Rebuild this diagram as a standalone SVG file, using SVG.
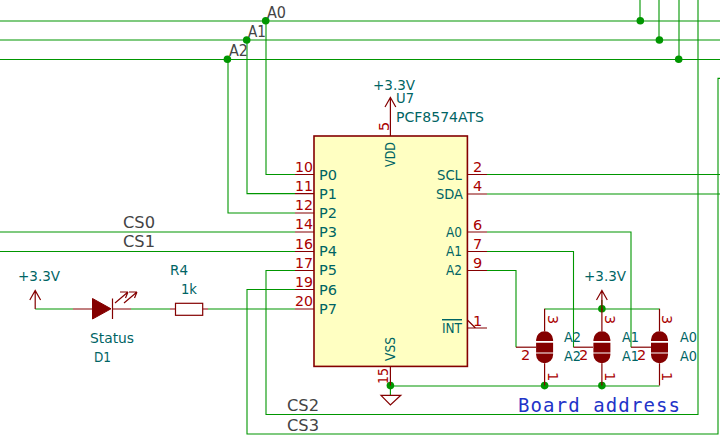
<svg xmlns="http://www.w3.org/2000/svg" width="720" height="437" viewBox="0 0 720 437">
<style>
text{font-family:"DejaVu Sans",sans-serif;font-size:14.5px}
.w{fill:none;stroke:#009600;stroke-width:1.1}
.p{fill:none;stroke:#840000;stroke-width:1.2}
.b{fill:#ffffc2;stroke:#840000;stroke-width:1.6}
.d{fill:#009600}
.n{fill:#a90000}
.t{fill:#006464}
.l{fill:#444;font-size:15.5px}
.c{fill:#444;font-size:16px}
.j{fill:#840000}
</style>
<defs>
<g id="jumper">
<path class="p" d="M0 -38.4V-16M0 16V38.4"/>
<path class="j" d="M-8.5 -6.2V-7.5A8.5 8.5 0 0 1 8.5 -7.5V-6.2ZM-8.5 -4.5H8.5V5.2H-8.5ZM-8.5 6.4H8.5V7.5A8.5 8.5 0 0 1 -8.5 7.5Z"/>
</g>
</defs>
<rect width="720" height="437" fill="#fff"/>
<g id="connectors">
<path class="w" d="M0 21H720M0 40H720M0 59.5H720"/>
<path class="w" d="M640 0V21M659 0V40M679 0V59.5"/>
<path class="w" d="M295 174.5H266V21M295 193.6H247V40M295 213H228V59.5"/>
<path class="w" d="M0 232H295M0 251.5H295"/>
<path class="w" d="M295 270.5H266V414.5H698V0"/>
<path class="w" d="M295 289.5H247V434H718V78.4H720"/>
<path class="w" d="M35.2 309H73M131 309H170M208 309H295"/>
<path class="w" d="M487 174.5H720M487 194H720"/>
<path class="w" d="M487 232H631V347.2M487 251.5H573.5V347.2M487 270.5H516V347.2"/>
<path class="w" d="M544.6 309H659.5M390.4 386H659.5M390.4 386V395M601.9 300V309"/>
<circle class="d" cx="265.7" cy="20.8" r="3.8"/>
<circle class="d" cx="246.7" cy="40" r="3.8"/>
<circle class="d" cx="227.4" cy="59.3" r="3.8"/>
<circle class="d" cx="640.3" cy="20.8" r="3.8"/>
<circle class="d" cx="659.4" cy="40" r="3.8"/>
<circle class="d" cx="678.7" cy="59.2" r="3.8"/>
<circle class="d" cx="601.9" cy="308.8" r="3.8"/>
<circle class="d" cx="390.4" cy="385.6" r="3.8"/>
<circle class="d" cx="544.6" cy="385.6" r="3.8"/>
<circle class="d" cx="601.9" cy="385.6" r="3.8"/>
</g>
<g id="net-labels">
<text class="l" x="267" y="18" textLength="19" lengthAdjust="spacingAndGlyphs">A0</text>
<text class="l" x="248" y="37" textLength="18" lengthAdjust="spacingAndGlyphs">A1</text>
<text class="l" x="229" y="56" textLength="19" lengthAdjust="spacingAndGlyphs">A2</text>
<text class="c" x="123" y="228" textLength="32" lengthAdjust="spacingAndGlyphs">CS0</text>
<text class="c" x="123" y="247" textLength="32" lengthAdjust="spacingAndGlyphs">CS1</text>
<text class="c" x="287" y="411" textLength="32" lengthAdjust="spacingAndGlyphs">CS2</text>
<text class="c" x="287" y="431" textLength="32" lengthAdjust="spacingAndGlyphs">CS3</text>
<text x="518" y="411.5" style="font-family:'DejaVu Sans Mono',monospace;font-size:19px;fill:#2233c8" textLength="162">Board address</text>
</g>
<g id="U7">
<rect class="b" x="314" y="136" width="153.4" height="230.4"/>
<path class="p" d="M295 174.5H314M295 193.6H314M295 213H314M295 232H314M295 251.5H314M295 270.5H314M295 289.5H314M295 309H314"/>
<path class="p" d="M467.4 174.5H487M467.4 194H487M467.4 232H487M467.4 251.5H487M467.4 270.5H487M467.4 328H487M467.4 320L475.5 328M390.4 136V116M390.4 366.4V385.6"/>
<g class="n">
<text x="295" y="172" textLength="18" lengthAdjust="spacingAndGlyphs">10</text><text x="295" y="191" textLength="18" lengthAdjust="spacingAndGlyphs">11</text><text x="295" y="210" textLength="18" lengthAdjust="spacingAndGlyphs">12</text><text x="295" y="229" textLength="18" lengthAdjust="spacingAndGlyphs">14</text><text x="295" y="249" textLength="18" lengthAdjust="spacingAndGlyphs">16</text><text x="295" y="268" textLength="18" lengthAdjust="spacingAndGlyphs">17</text><text x="295" y="287" textLength="18" lengthAdjust="spacingAndGlyphs">19</text><text x="295" y="306" textLength="18" lengthAdjust="spacingAndGlyphs">20</text>
<text x="473" y="172">2</text><text x="473" y="191">4</text><text x="473" y="230">6</text><text x="473" y="249">7</text><text x="473" y="268">9</text><text x="473" y="326">1</text>
<text transform="translate(388.5,131) rotate(-90)">5</text>
<text transform="translate(388,384) rotate(-90)" textLength="16" lengthAdjust="spacingAndGlyphs">15</text>
</g>
<g class="t">
<text x="319" y="180" textLength="18" lengthAdjust="spacingAndGlyphs">P0</text><text x="319" y="199" textLength="18" lengthAdjust="spacingAndGlyphs">P1</text><text x="319" y="218" textLength="18" lengthAdjust="spacingAndGlyphs">P2</text><text x="319" y="237" textLength="18" lengthAdjust="spacingAndGlyphs">P3</text><text x="319" y="256" textLength="18" lengthAdjust="spacingAndGlyphs">P4</text><text x="319" y="275" textLength="18" lengthAdjust="spacingAndGlyphs">P5</text><text x="319" y="295" textLength="18" lengthAdjust="spacingAndGlyphs">P6</text><text x="319" y="314" textLength="18" lengthAdjust="spacingAndGlyphs">P7</text>
<text x="437" y="180" textLength="25" lengthAdjust="spacingAndGlyphs">SCL</text><text x="436" y="199" textLength="27" lengthAdjust="spacingAndGlyphs">SDA</text><text x="446" y="237" textLength="16" lengthAdjust="spacingAndGlyphs">A0</text><text x="446" y="256" textLength="16" lengthAdjust="spacingAndGlyphs">A1</text><text x="446" y="275" textLength="16" lengthAdjust="spacingAndGlyphs">A2</text>
<text x="442" y="333" text-decoration="overline" textLength="20" lengthAdjust="spacingAndGlyphs">INT</text>
<text transform="translate(395,167) rotate(-90)" textLength="25" lengthAdjust="spacingAndGlyphs">VDD</text>
<text transform="translate(395,361) rotate(-90)" textLength="24" lengthAdjust="spacingAndGlyphs">VSS</text>
<text x="396" y="103" textLength="18" lengthAdjust="spacingAndGlyphs">U7</text>
<text x="396" y="122" textLength="88" lengthAdjust="spacingAndGlyphs">PCF8574ATS</text>
</g>
</g>
<g id="pwr-u7">
<path class="p" d="M390.4 116V97M385 107L390.4 97.5L395.8 107"/>
<text class="t" x="373" y="90" textLength="42" lengthAdjust="spacingAndGlyphs">+3.3V</text>
</g>
<g id="gnd">
<path class="p" d="M381 395.3H400.8L390.4 405Z"/>
</g>
<g id="pwr-led">
<path class="p" d="M35.2 309V290M29.8 300L35.2 290.5L40.6 300"/>
<text class="t" x="18" y="281" textLength="42" lengthAdjust="spacingAndGlyphs">+3.3V</text>
</g>
<g id="D1">
<path class="p" d="M73 309H92M112 309H131"/>
<path class="j" d="M92.5 298.5V319L111 308.8Z" stroke="#840000"/>
<path class="p" stroke-width="1.5" d="M112.5 298.5V319M115 303L128 292M128 292H120M128 292L125.5 298M124 303L137 292M137 292H129M137 292L134.5 298"/>
<text class="t" x="90" y="343" textLength="44" lengthAdjust="spacingAndGlyphs">Status</text>
<text class="t" x="94" y="362" textLength="17" lengthAdjust="spacingAndGlyphs">D1</text>
</g>
<g id="R4">
<path class="p" d="M170 309H175.5M202.7 309H208"/>
<rect x="175.5" y="303.3" width="27.2" height="12" fill="#fff" stroke="#840000" stroke-width="1.2"/>
<text class="t" x="170" y="275" textLength="18" lengthAdjust="spacingAndGlyphs">R4</text>
<text class="t" x="181" y="294" textLength="16" lengthAdjust="spacingAndGlyphs">1k</text>
</g>
<g id="pwr-jp">
<path class="p" d="M601.9 310V290M596.5 300L601.9 290.5L607.3 300"/>
<text class="t" x="584" y="281" textLength="42" lengthAdjust="spacingAndGlyphs">+3.3V</text>
</g>
<g id="JP1">
<use href="#jumper" transform="translate(544.6,347.2)"/>
<path class="p" d="M516 347.2H536"/>
<text class="n" x="521" y="360">2</text>
<text class="n" transform="translate(547.5,315) rotate(90)">3</text>
<text class="n" transform="translate(547.5,372) rotate(90)">1</text>
<text class="t" x="564" y="342" textLength="17" lengthAdjust="spacingAndGlyphs">A2</text><text class="t" x="564" y="361" textLength="17" lengthAdjust="spacingAndGlyphs">A2</text>
</g>
<g id="JP2">
<use href="#jumper" transform="translate(601.9,347.2)"/>
<path class="p" d="M573.5 347.2H593"/>
<text class="n" x="579" y="360">2</text>
<text class="n" transform="translate(604.8,315) rotate(90)">3</text>
<text class="n" transform="translate(604.8,372) rotate(90)">1</text>
<text class="t" x="622" y="342" textLength="17" lengthAdjust="spacingAndGlyphs">A1</text><text class="t" x="622" y="361" textLength="17" lengthAdjust="spacingAndGlyphs">A1</text>
</g>
<g id="JP3">
<use href="#jumper" transform="translate(659.5,347.2)"/>
<path class="p" d="M631 347.2H651"/>
<text class="n" x="637" y="360">2</text>
<text class="n" transform="translate(662.4,315) rotate(90)">3</text>
<text class="n" transform="translate(662.4,372) rotate(90)">1</text>
<text class="t" x="680" y="342" textLength="17" lengthAdjust="spacingAndGlyphs">A0</text><text class="t" x="680" y="361" textLength="17" lengthAdjust="spacingAndGlyphs">A0</text>
</g>
</svg>
